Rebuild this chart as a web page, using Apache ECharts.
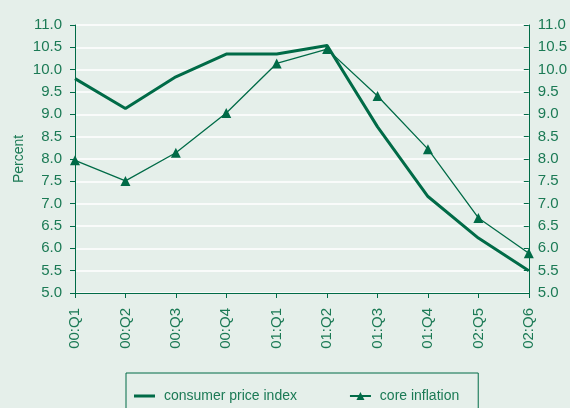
<!DOCTYPE html>
<html>
<head>
<meta charset="utf-8">
<script src="https://cdn.jsdelivr.net/npm/echarts@6/dist/echarts.min.js"></script>
<style>
  html, body { margin: 0; padding: 0; background: #e5efea; }
  #chart { width: 570px; height: 408px; }
</style>
</head>
<body>
<div id="chart"></div>
<script>
// quarters along the bottom
var quarters = ['00:Q1', '00:Q2', '00:Q3', '00:Q4', '01:Q1', '01:Q2', '01:Q3', '01:Q4', '02:Q5', '02:Q6']
// percent
var cpi = [9.80, 9.13, 9.84, 10.35, 10.35, 10.54, 8.72, 7.16, 6.23, 5.50]
var coreInflation = [7.97, 7.51, 8.14, 9.03, 10.14, 10.46, 9.41, 8.22, 6.68, 5.89]

var green = '#006b47'
var textGreen = '#1b7a55'
var font = '"Liberation Sans", Arial, sans-serif'

var chart = echarts.init(document.getElementById('chart'))

function yAxis (pos) {
  var isLeft = pos === 'left'
  return {
    type: 'value',
    position: pos,
    min: 5,
    max: 11,
    interval: 0.5,
    axisLine: { show: true, lineStyle: { color: green, width: 1 } },
    axisTick: { show: true, inside: !isLeft, length: 5, lineStyle: { color: green } },
    axisLabel: {
      color: textGreen,
      fontFamily: font,
      fontSize: 15,
      margin: isLeft ? 13 : 9,
      formatter: function (v) { return v.toFixed(1) }
    },
    splitLine: { show: isLeft, lineStyle: { color: '#ffffff', width: 1.5 } }
  }
}

var left = yAxis('left')
left.name = 'Percent'
left.nameLocation = 'middle'
left.nameGap = 49
left.nameMoveOverlap = false
left.nameTextStyle = { color: textGreen, fontFamily: font, fontSize: 14 }

// thin bar legend icon (bbox padded so the bar stays thin)
var barIcon = 'path://M0,0H22V0.01H0Z M0,3.5H22V6.5H0Z M0,9.99H22V10H0Z'

chart.setOption({
  backgroundColor: '#e5efea',
  animation: false,
  grid: { left: 75, right: 39, top: 25, bottom: 115 },
  legend: {
    left: 126,
    top: 373,
    padding: [16, 19, 20, 8],
    itemGap: 52,
    itemWidth: 21,
    itemHeight: 10,
    borderColor: green,
    borderWidth: 1,
    formatter: function (name) { return ' ' + name },
    textStyle: { color: textGreen, fontFamily: font, fontSize: 14 },
    data: [
      { name: 'consumer price index', icon: barIcon, itemStyle: { color: green } },
      { name: 'core inflation' }
    ]
  },
  xAxis: {
    type: 'category',
    data: quarters,
    boundaryGap: false,
    axisLine: { lineStyle: { color: green, width: 1 } },
    axisTick: { show: true, length: 5, alignWithLabel: true, lineStyle: { color: green } },
    axisLabel: {
      color: textGreen,
      fontFamily: font,
      fontSize: 15,
      rotate: 90,
      margin: 15
    }
  },
  yAxis: [left, yAxis('right')],
  series: [
    {
      name: 'consumer price index',
      type: 'line',
      data: cpi,
      symbol: 'none',
      lineStyle: { color: green, width: 3 },
      itemStyle: { color: green }
    },
    {
      name: 'core inflation',
      type: 'line',
      data: coreInflation,
      symbol: 'triangle',
      symbolSize: 10,
      lineStyle: { color: green, width: 1.3 },
      itemStyle: { color: green }
    }
  ]
})
</script>
</body>
</html>
